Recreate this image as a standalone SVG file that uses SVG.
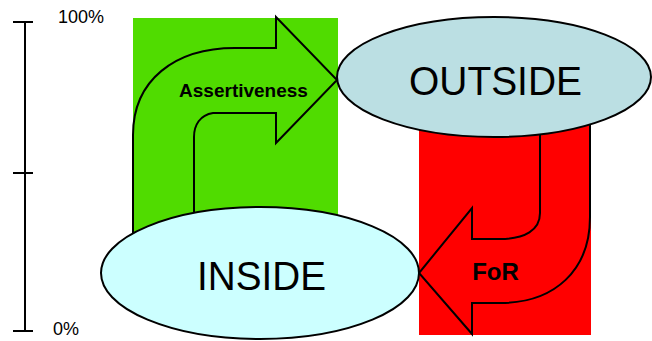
<svg xmlns="http://www.w3.org/2000/svg" width="652" height="341" viewBox="0 0 652 341">
<style>
.t{font-family:"Liberation Sans",Arial,sans-serif;fill:#000}
.ax{stroke:#000;stroke-width:2;fill:none}
.arr{stroke:#000;stroke-width:2;stroke-linejoin:miter}
.node{stroke:#000;stroke-width:2}
</style>
<rect width="652" height="341" fill="#fff"/>
<g id="scale">
<line class="ax" x1="25" y1="22" x2="25" y2="331"/>
<line class="ax" x1="13" y1="22" x2="33" y2="22"/>
<line class="ax" x1="13" y1="173" x2="33" y2="173"/>
<line class="ax" x1="13" y1="331" x2="33" y2="331"/>
<text class="t" x="58" y="23" font-size="18">100%</text>
<text class="t" x="53" y="335" font-size="18">0%</text>
</g>
<g id="connectors">
<g id="assertiveness">
<rect x="133" y="18" width="205" height="245" fill="#50DC00"/>
<path class="arr" fill="#50DC00" d="M133,245 L133,135 C133,80 175,48 235,48 L276,48 L276,17 L337,80 L276,143 L276,113 L213,113 C200,115 194,125 194,137 L194,245"/>
<text class="t" x="243.5" y="97" font-size="19" font-weight="bold" text-anchor="middle">Assertiveness</text>
</g>
<g id="for">
<rect x="419" y="110" width="172" height="225" fill="#FF0000"/>
<path class="arr" fill="#FF0000" d="M590,120 L590,217 C590,270 555,303 500,303 L472,303 L472,334 L419,273 L472,208 L472,239 L500,239 C525,239 540,230 540,213 L540,120"/>
<text class="t" x="495.5" y="280" font-size="24" font-weight="bold" text-anchor="middle">FoR</text>
</g>
</g>
<g id="outside">
<ellipse class="node" cx="494" cy="77" rx="157" ry="60" fill="#BBDFE3"/>
<text class="t" x="495.5" y="95" font-size="41" text-anchor="middle" textLength="173" lengthAdjust="spacingAndGlyphs">OUTSIDE</text>
</g>
<g id="inside">
<ellipse class="node" cx="260" cy="273" rx="159" ry="66" fill="#CCFFFF"/>
<text class="t" x="261.5" y="290" font-size="41" text-anchor="middle" textLength="129" lengthAdjust="spacingAndGlyphs">INSIDE</text>
</g>
</svg>
